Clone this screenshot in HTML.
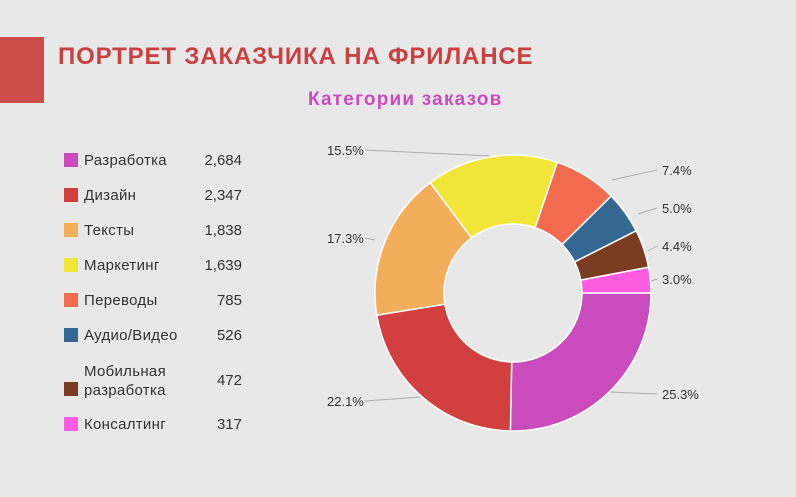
<!DOCTYPE html>
<html><head><meta charset="utf-8"><style>
body{margin:0;width:796px;height:497px;background:#e8e8e8;font-family:"Liberation Sans","DejaVu Sans",sans-serif;overflow:hidden;position:relative}
.bar{position:absolute;left:0;top:37px;width:44px;height:66px;background:#cc4b4b}
.title{position:absolute;left:58px;top:43px;font-size:24px;font-weight:bold;color:#c94040;letter-spacing:0.85px}
.sub{position:absolute;left:308px;top:89px;font-size:19px;font-weight:bold;color:#c94bbd;letter-spacing:1.2px}
.leg{position:absolute;left:64px;font-size:15px;color:#333;width:180px}
.leg .sw{position:absolute;left:0;width:14px;height:14px;top:2px}
.leg .n{position:absolute;left:20px;line-height:19px;letter-spacing:0.3px}
.leg .v{position:absolute;right:2px;line-height:19px}
svg{position:absolute;left:0;top:0}
</style></head><body>
<div class="bar"></div>
<div class="title">ПОРТРЕТ ЗАКАЗЧИКА НА ФРИЛАНСЕ</div>
<div class="sub">Категории заказов</div>
<div id="legend"></div>
<svg width="796" height="497" id="s"></svg>
<script>
var d=[["Разработка",2684,"#c94bbd"],["Дизайн",2347,"#d13f3f"],["Тексты",1838,"#f2ae5a"],["Маркетинг",1639,"#f2e53a"],["Переводы",785,"#f26b4f"],["Аудио/Видео",526,"#346791"],["Мобильная<br>разработка",472,"#7a3d22"],["Консалтинг",317,"#fb5ce0"]];
var ys=[151,186,221,256,291,326,362,415];
var h="";
d.forEach(function(e,i){var y=ys[i];var two=i==6;
h+='<div class="leg" style="top:'+y+'px"><div class="sw" style="background:'+e[2]+';top:'+(two?20:2)+'px"></div><div class="n">'+e[0]+'</div><div class="v" style="top:'+(two?9:0)+'px">'+e[1].toLocaleString("en-US")+'</div></div>';});
document.getElementById("legend").innerHTML=h;
var cx=513,cy=293,R=138,r=69,tot=0;d.forEach(function(e){tot+=e[1]});
var a=0,s="";
function p(rad,ang){return (cx+rad*Math.cos(ang)).toFixed(2)+","+(cy+rad*Math.sin(ang)).toFixed(2)}
d.forEach(function(e){var b=a+e[1]/tot*2*Math.PI;var l=(b-a)>Math.PI?1:0;
s+='<path d="M'+p(R,a)+' A'+R+','+R+' 0 '+l+' 1 '+p(R,b)+' L'+p(r,b)+' A'+r+','+r+' 0 '+l+' 0 '+p(r,a)+'Z" fill="'+e[2]+'" stroke="#fff" stroke-width="1.5"/>';a=b;});
var labs=[["25.3%",662,399,"start",610,392],["22.1%",327,406,"start",420,397],["17.3%",327,243,"start",375,240],["15.5%",327,155,"start",490,156],["7.4%",662,175,"start",612,180],["5.0%",662,213,"start",638,214],["4.4%",662,251,"start",648,251],["3.0%",662,284,"start",651,281]];
labs.forEach(function(l){var lx=l[1]<500?365:657;
s+='<line x1="'+lx+'" y1="'+(l[2]-5)+'" x2="'+l[4]+'" y2="'+l[5]+'" stroke="#aaa" stroke-width="1"/>';
s+='<text x="'+l[1]+'" y="'+l[2]+'" font-size="13" fill="#333" font-family="Liberation Sans,sans-serif">'+l[0]+'</text>';});
document.getElementById("s").innerHTML=s;
</script>
</body></html>
